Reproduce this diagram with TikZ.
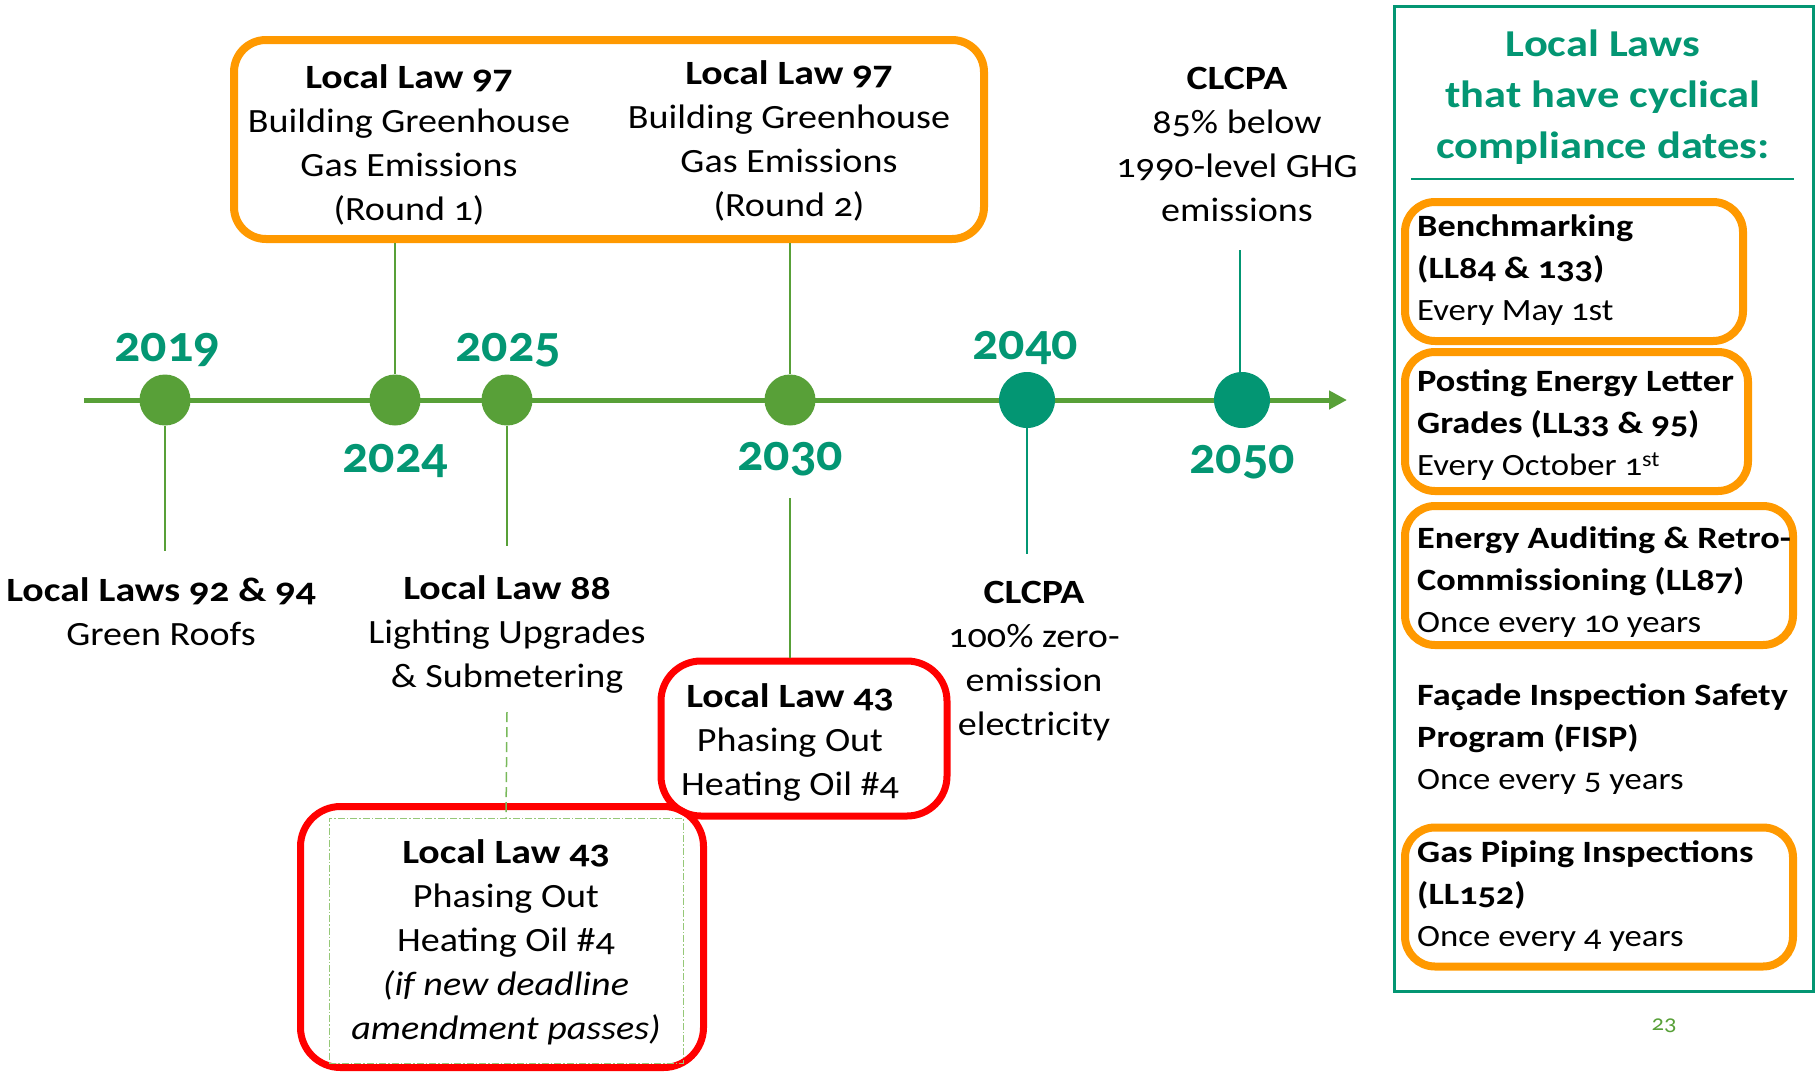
\documentclass[tikz,border=0pt]{standalone}
\usepackage{fontspec}
\setmainfont{Carlito}[Numbers=OldStyle, FakeStretch=1.12, BoldFeatures={FakeStretch=1.17}, BoldItalicFeatures={FakeStretch=1.17}]
\newfontfamily\yearfont{Carlito}[Numbers=OldStyle]
\usetikzlibrary{arrows.meta}
\definecolor{tlgreen}{RGB}{88,160,56}
\definecolor{tealc}{RGB}{3,150,115}
\definecolor{orangec}{RGB}{255,153,0}
\definecolor{redc}{RGB}{255,0,0}
\definecolor{dashg}{RGB}{120,185,90}
\definecolor{dotg}{RGB}{150,200,120}
\begin{document}
\begin{tikzpicture}[x=1pt,y=-1pt,
  txt/.style={inner sep=0pt, align=center, font=\fontsize{34}{44}\selectfont},
  yearlbl/.style={inner sep=0pt, text=tealc, font=\yearfont\fontsize{52}{52}\selectfont\bfseries},
  gdot/.style={circle, fill=tlgreen, minimum size=51pt, inner sep=0pt},
  tdot/.style={circle, fill=tealc, minimum size=56pt, inner sep=0pt},
  conn/.style={draw=tlgreen, line width=1.5pt},
  tconn/.style={draw=tealc, line width=1.5pt},
  orbox/.style={draw=orangec, line width=8pt, rounded corners=32pt, inner sep=0pt},
  rdbox/.style={draw=redc, line width=7pt, rounded corners=40pt, inner sep=0pt},
  ptxt/.style={inner sep=0pt, align=left, anchor=west, font=\fontsize{31}{42}\selectfont}
]
\useasboundingbox (0,0) rectangle (1820,1074);

% timeline
\coordinate (tls) at (84,400);
\coordinate (tle) at (1347,400);
\draw[tlgreen, line width=5pt, -{Triangle[length=18pt,width=18pt]}] (tls) -- (tle);

\node[gdot] (c2019) at (165,400) {};
\node[gdot] (c2024) at (395,400) {};
\node[gdot] (c2025) at (507,400) {};
\node[gdot] (c2030) at (790,400) {};
\node[tdot] (c2040) at (1027,400) {};
\node[tdot] (c2050) at (1242,400) {};

\node[yearlbl] (y2019) at (167,350) {2019};
\node[yearlbl] (y2025) at (508,350) {2025};
\node[yearlbl] (y2040) at (1025,348) {2040};
\node[yearlbl] (y2024) at (395,461) {2024};
\node[yearlbl] (y2030) at (790,459) {2030};
\node[yearlbl] (y2050) at (1242,462) {2050};

% top LL97 box
\node[orbox, minimum width=750pt, minimum height=199pt] (ll97box) at (609,139.5) {};
\node[txt] (ll97a) at (409,145) {\textbf{Local Law 97}\\Building Greenhouse\\Gas Emissions\\(Round 1)};
\node[txt] (ll97b) at (789,141) {\textbf{Local Law 97}\\Building Greenhouse\\Gas Emissions\\(Round 2)};
\draw[conn] (ll97box.south -| c2024) -- (c2024.north);
\draw[conn] (ll97box.south -| c2030) -- (c2030.north);

% CLCPA top
\node[txt] (clcpa85) at (1237,144) {\textbf{CLCPA}\\85\% below\\1990-level GHG\\emissions};
\coordinate (s2050) at (1240,250);
\draw[tconn] (s2050) -- (s2050 |- c2050.north);

% bottom labels
\node[txt] (ll9294) at (161,612) {\textbf{Local Laws 92 \& 94}\\Green Roofs};
\coordinate (e2019) at (165,551);
\draw[conn] (c2019.south) -- (e2019);

\node[txt] (ll88) at (507,634) {\textbf{Local Law 88}\\Lighting Upgrades\\\& Submetering};
\coordinate (e2025) at (507,546);
\draw[conn] (c2025.south) -- (e2025);

\node[txt] (clcpa100) at (1034,661) {\textbf{CLCPA}\\100\% zero-\\emission\\electricity};
\coordinate (e2040) at (1027,554);
\draw[tconn] (c2040.south) -- (e2040);

% LL43 middle box
\node[rdbox, minimum width=286pt, minimum height=155pt] (ll43b) at (804,738.5) {};
\node[txt] (ll43btxt) at (790,742) {\textbf{Local Law 43}\\Phasing Out\\Heating Oil \#4};
\coordinate (s2030) at (790,498);
\draw[conn] (s2030) -- (ll43b.north -| s2030);

% LL43 bottom box
\node[rdbox, minimum width=403pt, minimum height=261pt] (ll43a) at (502,937) {};
\node[draw=dotg, line width=1pt, dash pattern=on 7pt off 2pt on 1.5pt off 2pt, minimum width=354pt, minimum height=245pt, inner sep=0pt] (ll43in) at (506,940.5) {};
\node[txt] (ll43atxt) at (506,942) {\textbf{Local Law 43}\\Phasing Out\\Heating Oil \#4\\\textit{(if new deadline}\\\textit{amendment passes)}};
\coordinate (s88) at (507,712);
\draw[dashg, line width=1.5pt, dash pattern=on 10pt off 5pt] (s88) -- (ll43in.north);

% right panel
\node[draw=tealc, line width=3pt, minimum width=419pt, minimum height=985pt, inner sep=0pt] (panel) at (1603.5,498.5) {};
\node[inner sep=0pt, align=center, text=tealc, font=\fontsize{38}{51}\selectfont\bfseries] (ptitle) at (1603,97) {Local Laws\\that have cyclical\\compliance dates:};
\coordinate (ul1) at (1411,179);
\coordinate (ul2) at (1794,179);
\draw[tealc, line width=2pt] (ul1) -- (ul2);

\node[orbox, rounded corners=30pt, line width=8pt, minimum width=338pt, minimum height=139pt] (b1) at (1574,271.5) {};
\node[orbox, rounded corners=30pt, line width=8pt, minimum width=343pt, minimum height=139pt] (b2) at (1576.5,421.5) {};
\node[orbox, rounded corners=30pt, line width=8pt, minimum width=388pt, minimum height=139pt] (b3) at (1599,575.5) {};
\node[orbox, rounded corners=30pt, line width=8pt, minimum width=388pt, minimum height=139pt] (b5) at (1599,897) {};

\node[ptxt] (t1) at (1417,270) {\textbf{Benchmarking}\\\textbf{(LL84 \& 133)}\\Every May 1st};
\node[ptxt] (t2) at (1417,425) {\textbf{Posting Energy Letter}\\\textbf{Grades (LL33 \& 95)}\\Every October 1\textsuperscript{st}};
\node[ptxt] (t3) at (1417,582) {\textbf{Energy Auditing \& Retro-}\\\textbf{Commissioning (LL87)}\\Once every 10 years};
\node[ptxt] (t4) at (1417,739) {\textbf{Façade Inspection Safety}\\\textbf{Program (FISP)}\\Once every 5 years};
\node[ptxt] (t5) at (1417,896) {\textbf{Gas Piping Inspections}\\\textbf{(LL152)}\\Once every 4 years};

\node[inner sep=0pt, text=tlgreen, font=\fontsize{22}{22}\selectfont] (pnum) at (1664,1026) {23};
\end{tikzpicture}
\end{document}
